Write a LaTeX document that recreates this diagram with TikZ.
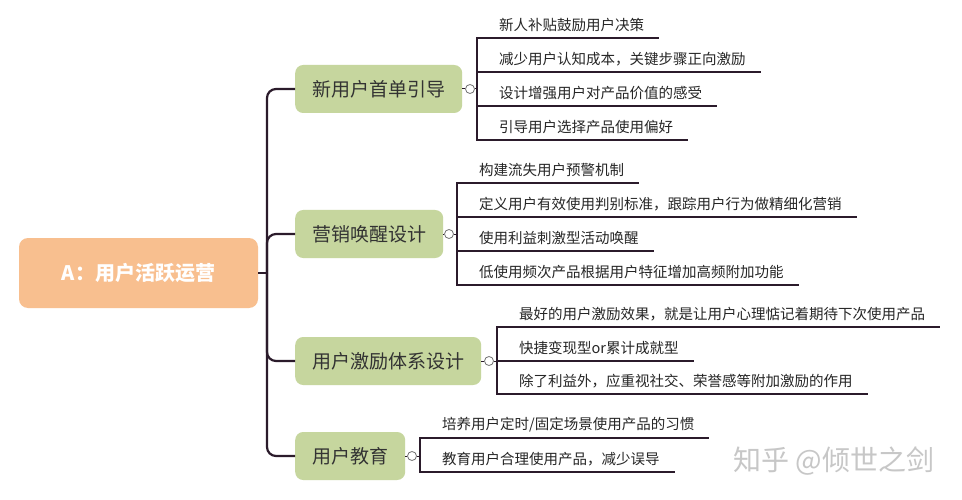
\documentclass[tikz,border=0pt]{standalone}
\usepackage{fontspec}
\setmainfont{Noto Sans CJK SC}
\usepackage{xcolor}

\definecolor{rootfill}{HTML}{F8BF8F}
\definecolor{topicfill}{HTML}{C6D69E}
\definecolor{linecol}{HTML}{2B1B2B}

\tikzset{
  rootbox/.style={fill=rootfill, rounded corners=9pt, minimum width=239pt, minimum height=70pt,
    text=white, font=\fontsize{20}{20}\selectfont\bfseries},
  topic/.style={fill=topicfill, rounded corners=8pt, minimum height=48pt, inner xsep=17pt,
    anchor=west, text=black!80, font=\fontsize{19}{19}\selectfont},
  knob/.style={circle, draw=black!55, fill=white, line width=0.8pt, minimum size=9pt, inner sep=0pt},
  leaf/.style={anchor=south west, inner xsep=0pt, inner ysep=6pt, text=black!85,
    font=\fontsize{14.5}{14.5}\selectfont},
  branch/.style={draw=linecol, line width=2.2pt, rounded corners=9pt},
  twig/.style={draw=linecol, line width=1.8pt, line cap=rect},
  stub/.style={draw=linecol, line width=1pt},
}

\begin{document}
\begin{tikzpicture}[x=1pt,y=-1pt]
        \useasboundingbox[fill=white] (0,0) rectangle (962,500);

        % root and topics
        \node[rootbox] (root) at (138.5,273) {A：用户活跃运营};
        \node[topic] (n1) at (295,89) {新用户首单引导};
        \node[topic] (n2) at (295,234) {营销唤醒设计};
        \node[topic] (n3) at (295,361) {用户激励体系设计};
        \node[topic] (n4) at (295,456) {用户教育};

        \coordinate (hub) at (267,273);
        \draw[branch] (root.east) -- (hub);
        \draw[branch] (hub) |- (n1.west);
        \draw[branch] (hub) |- (n2.west);
        \draw[branch] (hub) |- (n3.west);
        \draw[branch] (hub) |- (n4.west);

        % knobs and brackets
        \node[knob] (k1) at (470,89) {};
        \node[knob] (k2) at (449,234) {};
        \node[knob] (k3) at (489,361) {};
        \node[knob] (k4) at (412,456) {};
        \coordinate (b1) at (477,89);
        \coordinate (b2) at (457,234);
        \coordinate (b3) at (497,361);
        \coordinate (b4) at (420,456);
        \draw[stub] (n1.east) -- (k1.west);
        \draw[stub] (k1.east) -- (b1);
        \draw[stub] (n2.east) -- (k2.west);
        \draw[stub] (k2.east) -- (b2);
        \draw[stub] (n3.east) -- (k3.west);
        \draw[stub] (k3.east) -- (b3);
        \draw[stub] (n4.east) -- (k4.west);
        \draw[stub] (k4.east) -- (b4);

        % leaves of n1
        \node[leaf] (c11) at (499,38) {新人补贴鼓励用户决策};
        \node[leaf] (c12) at (499,72) {减少用户认知成本，关键步骤正向激励};
        \node[leaf] (c13) at (499,106) {设计增强用户对产品价值的感受};
        \node[leaf] (c14) at (499,140) {引导用户选择产品使用偏好};
        \draw[twig] (b1 |- c11.south west) -- (b1 |- c14.south west);
        \draw[twig] (b1 |- c11.south west) -- ([xshift=14pt]c11.south east);
        \draw[twig] (b1 |- c12.south west) -- ([xshift=14pt]c12.south east);
        \draw[twig] (b1 |- c13.south west) -- ([xshift=14pt]c13.south east);
        \draw[twig] (b1 |- c14.south west) -- ([xshift=14pt]c14.south east);

        % leaves of n2
        \node[leaf] (c21) at (479,183) {构建流失用户预警机制};
        \node[leaf] (c22) at (479,217) {定义用户有效使用判别标准，跟踪用户行为做精细化营销};
        \node[leaf] (c23) at (479,251) {使用利益刺激型活动唤醒};
        \node[leaf] (c24) at (479,285) {低使用频次产品根据用户特征增加高频附加功能};
        \draw[twig] (b2 |- c21.south west) -- (b2 |- c24.south west);
        \draw[twig] (b2 |- c21.south west) -- ([xshift=14pt]c21.south east);
        \draw[twig] (b2 |- c22.south west) -- ([xshift=14pt]c22.south east);
        \draw[twig] (b2 |- c23.south west) -- ([xshift=14pt]c23.south east);
        \draw[twig] (b2 |- c24.south west) -- ([xshift=14pt]c24.south east);

        % leaves of n3
        \node[leaf] (c31) at (519,327) {最好的用户激励效果，就是让用户心理惦记着期待下次使用产品};
        \node[leaf] (c32) at (519,361) {快捷变现型or累计成就型};
        \node[leaf] (c33) at (519,394) {除了利益外，应重视社交、荣誉感等附加激励的作用};
        \draw[twig] (b3 |- c31.south west) -- (b3 |- c33.south west);
        \draw[twig] (b3 |- c31.south west) -- ([xshift=14pt]c31.south east);
        \draw[twig] (b3 |- c32.south west) -- ([xshift=14pt]c32.south east);
        \draw[twig] (b3 |- c33.south west) -- ([xshift=14pt]c33.south east);

        % leaves of n4
        \node[leaf] (c41) at (442,438) {培养用户定时/固定场景使用产品的习惯};
        \node[leaf] (c42) at (442,472) {教育用户合理使用产品，减少误导};
        \draw[twig] (b4 |- c41.south west) -- (b4 |- c42.south west);
        \draw[twig] (b4 |- c41.south west) -- ([xshift=14pt]c41.south east);
        \draw[twig] (b4 |- c42.south west) -- ([xshift=14pt]c42.south east);

        \node[text=black!22, font=\fontsize{28}{28}\selectfont] (mark) at (834,461) {知乎 @倾世之剑};
      \end{tikzpicture}
\end{document}
